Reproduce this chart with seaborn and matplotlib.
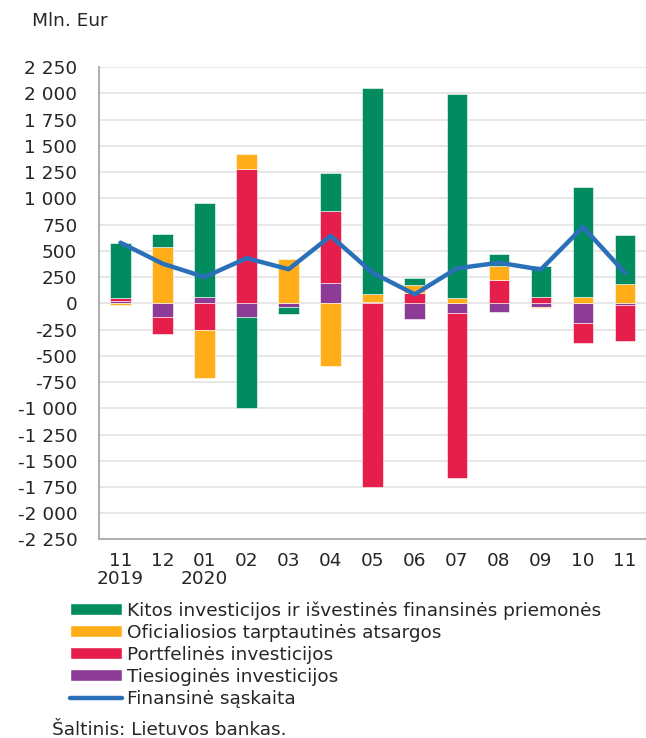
import numpy as np
import pandas as pd
import matplotlib
matplotlib.use('Agg')
import matplotlib.pyplot as plt
from matplotlib.patches import Patch
from matplotlib.lines import Line2D
import seaborn as sns

# Duomenys (mln. Eur)
menesiai = ['11\n2019', '12', '01\n2020', '02', '03', '04', '05', '06', '07', '08', '09', '10', '11']
tiesiogines = [25, -133, 63, -133, -38, 190, 10, -152, -90, -80, -32, -191, -16]
portfelines = [30, -157, -254, 1280, 0, 690, -1754, 95, -1572, 222, 57, -190, -340]
oficialiosios = [-15, 540, -455, 146, 422, -600, 80, 76, 48, 133, -8, 57, 184]
kitos = [517, 120, 890, -862, -67, 365, 1960, 67, 1947, 112, 298, 1051, 467]
finansine = [578, 378, 250, 430, 325, 642, 290, 86, 333, 387, 322, 728, 290]

serijos = ['Tiesioginės investicijos', 'Portfelinės investicijos',
           'Oficialiosios tarptautinės atsargos',
           'Kitos investicijos ir išvestinės finansinės priemonės']
spalvos = ['#8C3C96', '#E61E4B', '#FFAD19', '#008C5F']
linijos_spalva = '#2A70B8'

df = pd.DataFrame({serijos[0]: tiesiogines, serijos[1]: portfelines,
                   serijos[2]: oficialiosios, serijos[3]: kitos})
x = np.arange(len(menesiai))

sns.set_style('white')
plt.rcParams['font.family'] = ['DejaVu Sans']
FS = 13.3

fig = plt.figure(figsize=(6.46, 7.38), dpi=100)
ax = fig.add_axes([0.154, 0.269, 0.846, 0.640])

# sukrautos juostos: teigiamos ir neigiamos dalys atskirai
pos_bottom = np.zeros(len(x))
neg_bottom = np.zeros(len(x))
for s, c in zip(serijos, spalvos):
    v = df[s].values.astype(float)
    bottom = np.where(v >= 0, pos_bottom, neg_bottom)
    ax.bar(x, v, width=0.49, bottom=bottom, color=c, edgecolor='white',
           linewidth=0.4, zorder=2)
    pos_bottom += np.where(v >= 0, v, 0)
    neg_bottom += np.where(v < 0, v, 0)

lin = pd.DataFrame({'x': x, 'y': finansine})
sns.lineplot(data=lin, x='x', y='y', ax=ax, color=linijos_spalva, linewidth=3.2,
             zorder=3, solid_capstyle='round')

ax.set_xlim(-0.5, len(x) - 0.5)
ax.set_ylim(-2250, 2250)
ticks = np.arange(-2250, 2251, 250)
ax.set_yticks(ticks)
ax.set_yticklabels([f'{t:,}'.replace(',', ' ') for t in ticks], fontsize=FS)
ax.set_xticks(x)
ax.set_xticklabels(menesiai, fontsize=FS, linespacing=1.0)
ax.tick_params(axis='y', length=0, pad=16)
ax.tick_params(axis='x', length=0, pad=9)
ax.set_xlabel('')
ax.set_ylabel('')
ax.grid(axis='y', color='#e3e3e3', linewidth=1.2, zorder=0)
ax.set_axisbelow(True)
for side in ['top', 'right']:
    ax.spines[side].set_visible(False)
for side in ['left', 'bottom']:
    ax.spines[side].set_color('#b0b0b0')
    ax.spines[side].set_linewidth(1.5)

fig.text(32 / 646, 1 - 21 / 738, 'Mln. Eur', fontsize=FS, va='center', ha='left')

handles = [Patch(facecolor=spalvos[3]), Patch(facecolor=spalvos[2]),
           Patch(facecolor=spalvos[1]), Patch(facecolor=spalvos[0]),
           Line2D([0], [0], color=linijos_spalva, linewidth=3.2, solid_capstyle='round')]
labels = [serijos[3], serijos[2], serijos[1], serijos[0], 'Finansinė sąskaita']
fig.legend(handles, labels, loc='upper left', bbox_to_anchor=(70 / 646, 1 - 601 / 738),
           frameon=False, fontsize=FS, handlelength=2.8, handleheight=0.58,
           handletextpad=0.27, labelspacing=0.22, borderpad=0, borderaxespad=0)

fig.text(52 / 646, 1 - 730 / 738, 'Šaltinis: Lietuvos bankas.', fontsize=FS,
         va='center', ha='left')

fig.savefig('out.png', dpi=100)
